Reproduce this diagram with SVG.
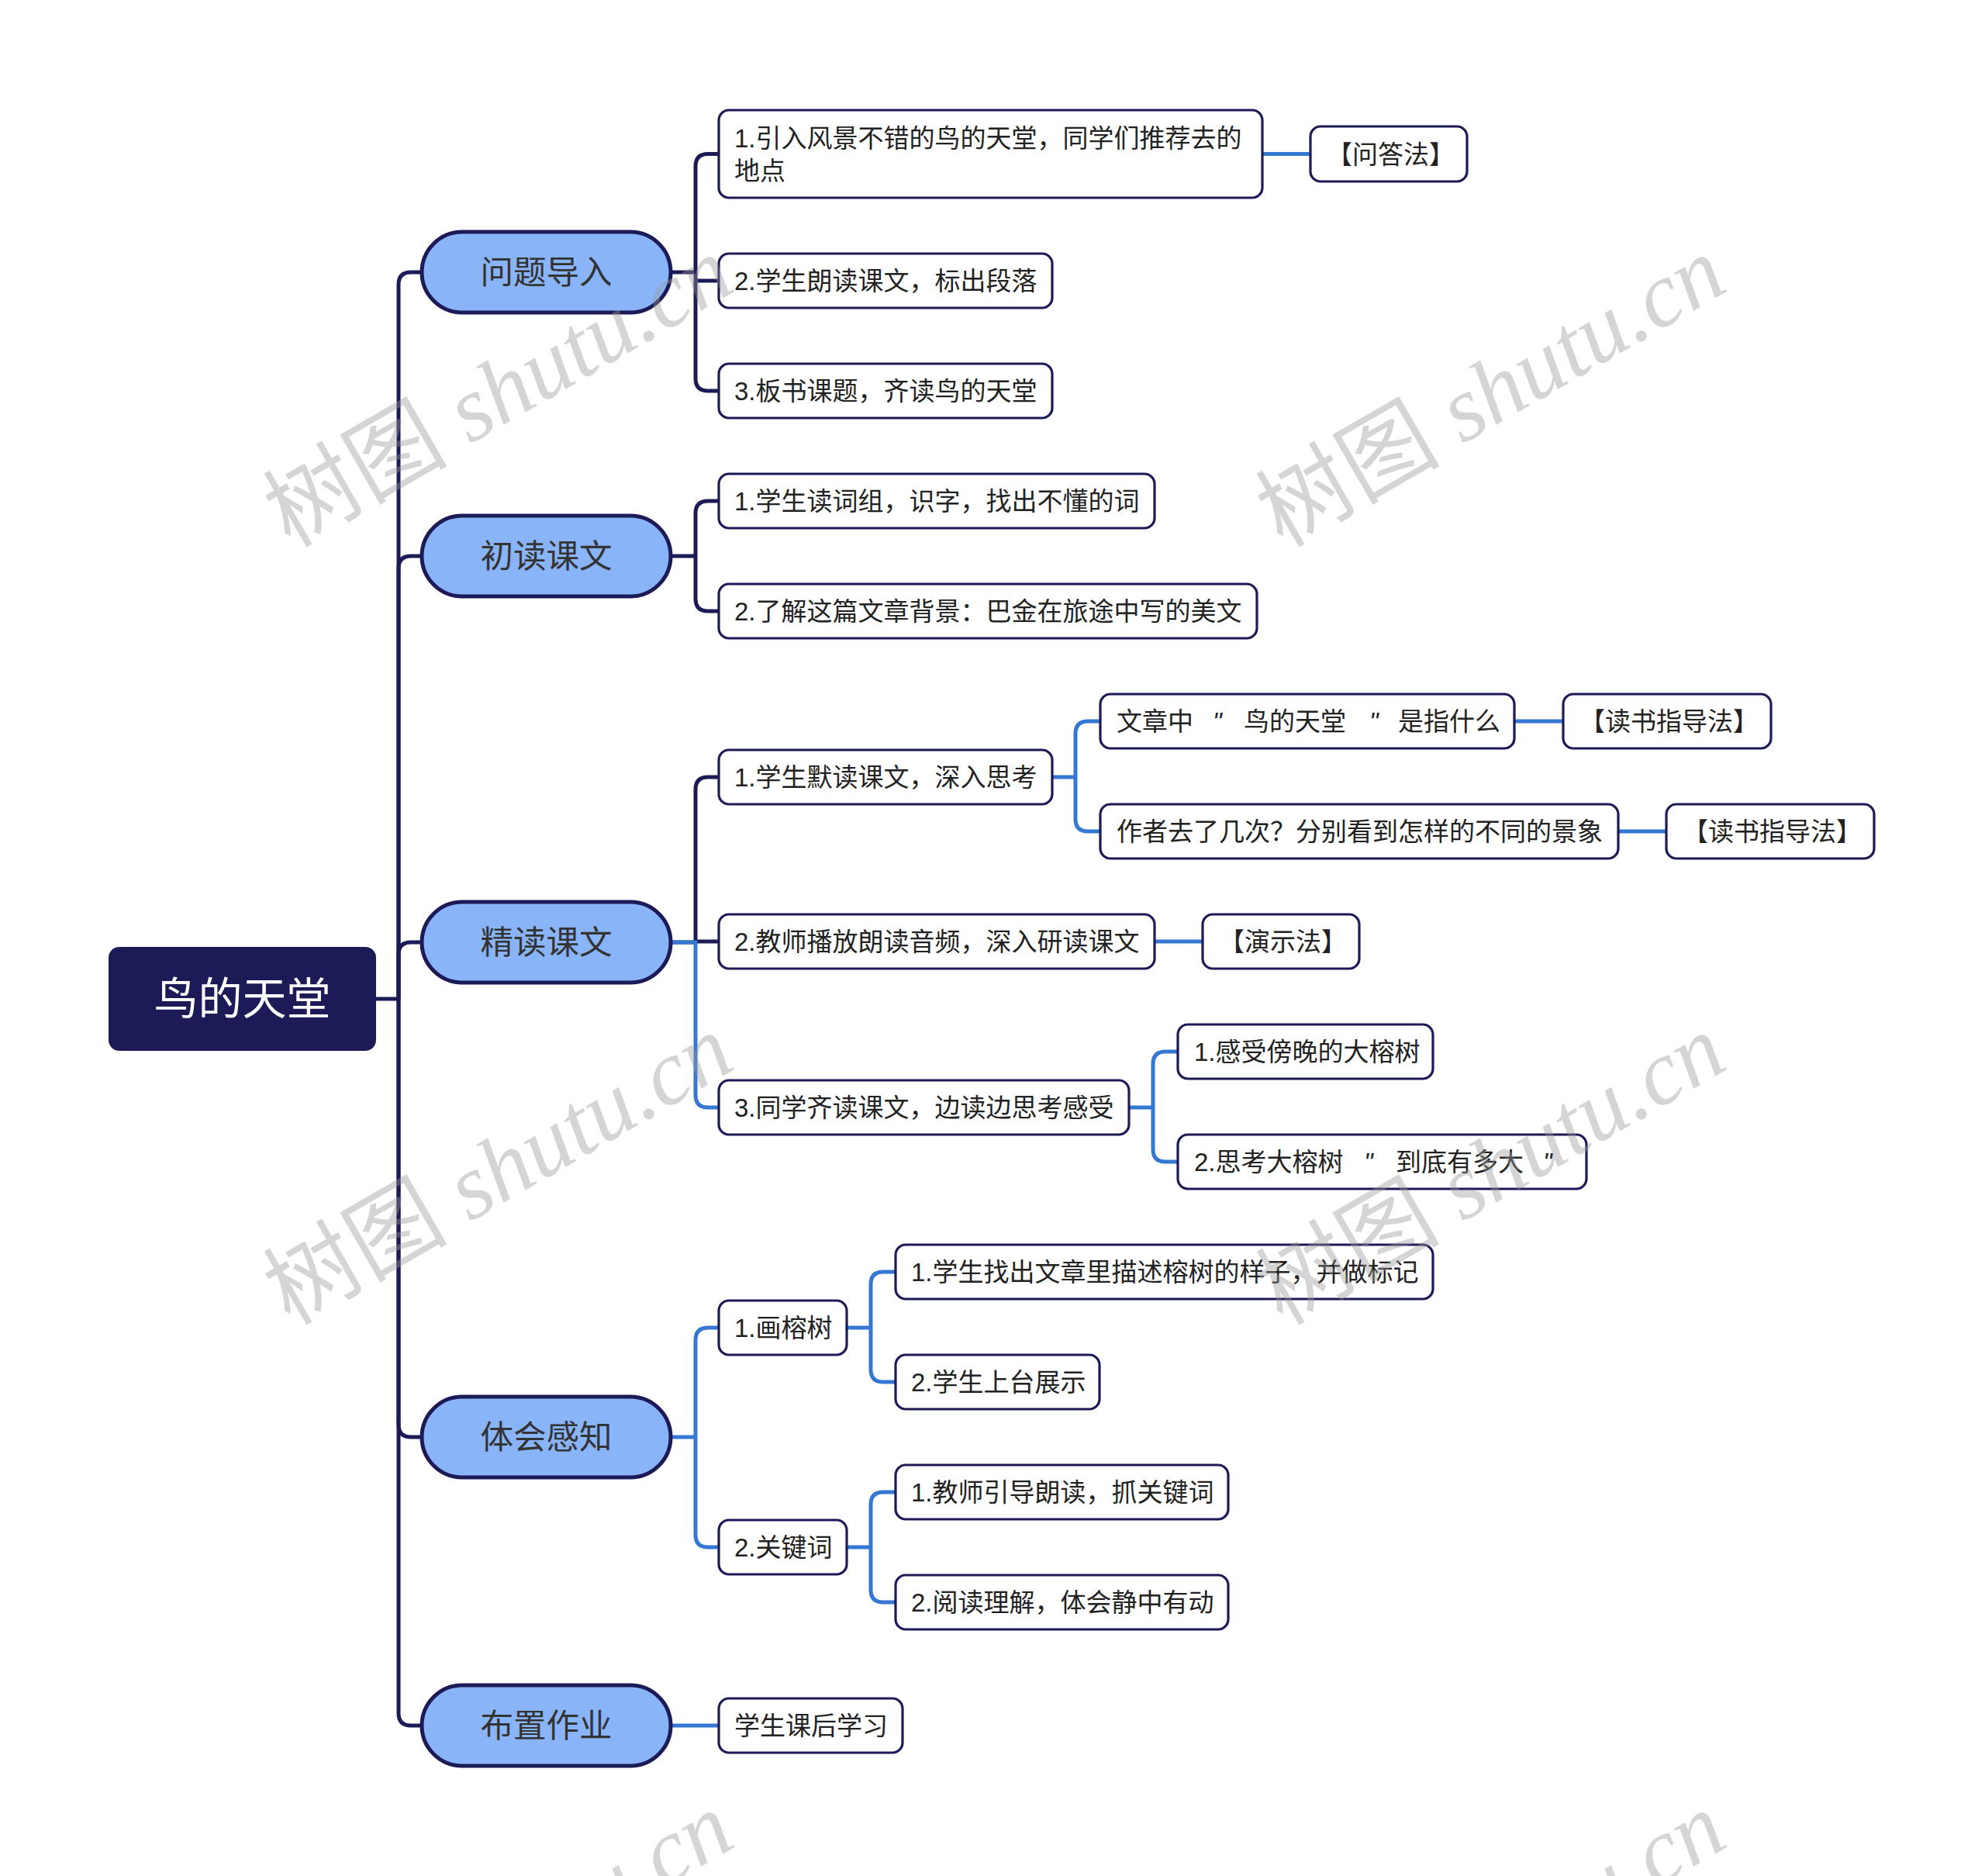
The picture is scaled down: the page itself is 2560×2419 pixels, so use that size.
<svg xmlns="http://www.w3.org/2000/svg" width="2560" height="2419" viewBox="0 0 2560 2419">
<style>
.bg{fill:#ffffff}
.root{fill:#1c1a57}
.roott{fill:#ffffff;font-family:'Liberation Sans','Noto Sans CJK SC',sans-serif;font-size:57px;text-anchor:middle}
.l1{fill:#8ab4f8;stroke:#1c1a57;stroke-width:5}
.l1t{fill:#333333;font-family:'Liberation Sans','Noto Sans CJK SC',sans-serif;font-size:42.5px;text-anchor:middle}
.box{fill:#ffffff;stroke:#1c1a57;stroke-width:3.2}
.t{fill:#222222;font-family:'Liberation Sans','Noto Sans CJK SC',sans-serif;font-size:33px}
.q{font-style:italic}
.dk{fill:none;stroke:#1c1a57;stroke-width:5}
.bl{fill:none;stroke:#3478d4;stroke-width:5}
.wm{fill:#999999;opacity:0.4;font-family:'Liberation Serif','Noto Sans CJK SC',serif;font-size:119px;font-style:italic;text-anchor:middle}
</style>
<rect class="bg" x="0" y="0" width="2560" height="2419"/>
<g id="connectors">
<path class="dk" d="M485,1288 H514"/>
<path class="dk" d="M514,1288 V367 Q514,351 530,351 H544"/>
<path class="dk" d="M514,1288 V733 Q514,717 530,717 H544"/>
<path class="dk" d="M514,1288 V1231 Q514,1215 530,1215 H544"/>
<path class="dk" d="M514,1288 V1837 Q514,1853 530,1853 H544"/>
<path class="dk" d="M514,1288 V2209 Q514,2225 530,2225 H544"/>
<path class="dk" d="M865,351 H897"/>
<path class="dk" d="M897,351 V214.5 Q897,198.5 913,198.5 H927"/>
<path class="dk" d="M897,351 V488 Q897,504 913,504 H927"/>
<path class="dk" d="M897,362 H927"/>
<path class="dk" d="M865,717 H897"/>
<path class="dk" d="M897,717 V662 Q897,646 913,646 H927"/>
<path class="dk" d="M897,717 V772 Q897,788 913,788 H927"/>
<path class="dk" d="M865,1215 H897"/>
<path class="dk" d="M897,1215 V1018 Q897,1002 913,1002 H927"/>
<path class="dk" d="M897,1214 H927"/>
<path class="bl" d="M1628,198.5 H1690"/>
<path class="bl" d="M865,1215 H897 V1412 Q897,1428 913,1428 H927"/>
<path class="bl" d="M1357,1002 H1387"/>
<path class="bl" d="M1387,1002 V946 Q1387,930 1403,930 H1419"/>
<path class="bl" d="M1387,1002 V1056 Q1387,1072 1403,1072 H1419"/>
<path class="bl" d="M1953,930 H2016"/>
<path class="bl" d="M2087,1072 H2149"/>
<path class="bl" d="M1489,1214 H1551"/>
<path class="bl" d="M1456,1428 H1487"/>
<path class="bl" d="M1487,1428 V1372 Q1487,1356 1503,1356 H1519"/>
<path class="bl" d="M1487,1428 V1482 Q1487,1498 1503,1498 H1519"/>
<path class="bl" d="M865,1853 H897"/>
<path class="bl" d="M897,1853 V1728 Q897,1712 913,1712 H927"/>
<path class="bl" d="M897,1853 V1979 Q897,1995 913,1995 H927"/>
<path class="bl" d="M1092,1712 H1123"/>
<path class="bl" d="M1123,1712 V1656 Q1123,1640 1139,1640 H1155"/>
<path class="bl" d="M1123,1712 V1766 Q1123,1782 1139,1782 H1155"/>
<path class="bl" d="M1092,1995 H1123"/>
<path class="bl" d="M1123,1995 V1940 Q1123,1924 1139,1924 H1155"/>
<path class="bl" d="M1123,1995 V2050 Q1123,2066 1139,2066 H1155"/>
<path class="bl" d="M865,2225 H927"/>
</g>
<g id="root">
<rect class="root" x="140" y="1221" width="345" height="134" rx="14"/>
<text class="roott" x="312.5" y="1308">鸟的天堂</text>
</g>
<g id="n-wenti">
<rect class="l1" x="544" y="299" width="321" height="104" rx="52"/>
<text class="l1t" x="704.5" y="366">问题导入</text>
</g>
<g id="n-chudu">
<rect class="l1" x="544" y="665" width="321" height="104" rx="52"/>
<text class="l1t" x="704.5" y="732">初读课文</text>
</g>
<g id="n-jingdu">
<rect class="l1" x="544" y="1163" width="321" height="104" rx="52"/>
<text class="l1t" x="704.5" y="1230">精读课文</text>
</g>
<g id="n-tihui">
<rect class="l1" x="544" y="1801" width="321" height="104" rx="52"/>
<text class="l1t" x="704.5" y="1868">体会感知</text>
</g>
<g id="n-buzhi">
<rect class="l1" x="544" y="2173" width="321" height="104" rx="52"/>
<text class="l1t" x="704.5" y="2240">布置作业</text>
</g>
<g id="a1">
<rect class="box" x="927" y="142" width="701" height="113" rx="13"/>
<text class="t" x="947" y="190">1.引入风景不错的鸟的天堂，同学们推荐去的</text>
<text class="t" x="947" y="232">地点</text>
</g>
<g id="a1m">
<rect class="box" x="1690" y="163" width="202" height="71" rx="13"/>
<text class="t" x="1711" y="210.5">【问答法】</text>
</g>
<g id="a2">
<rect class="box" x="927" y="327" width="430" height="70" rx="13"/>
<text class="t" x="947" y="374">2.学生朗读课文，标出段落</text>
</g>
<g id="a3">
<rect class="box" x="927" y="469" width="430" height="70" rx="13"/>
<text class="t" x="947" y="516">3.板书课题，齐读鸟的天堂</text>
</g>
<g id="b1">
<rect class="box" x="927" y="611" width="562" height="70" rx="13"/>
<text class="t" x="947" y="658">1.学生读词组，识字，找出不懂的词</text>
</g>
<g id="b2">
<rect class="box" x="927" y="753" width="694" height="70" rx="13"/>
<text class="t" x="947" y="800">2.了解这篇文章背景：巴金在旅途中写的美文</text>
</g>
<g id="c1">
<rect class="box" x="927" y="967" width="430" height="70" rx="13"/>
<text class="t" x="947" y="1014">1.学生默读课文，深入思考</text>
</g>
<g id="c2">
<rect class="box" x="927" y="1179" width="562" height="70" rx="13"/>
<text class="t" x="947" y="1226">2.教师播放朗读音频，深入研读课文</text>
</g>
<g id="c3">
<rect class="box" x="927" y="1393" width="529" height="70" rx="13"/>
<text class="t" x="947" y="1440">3.同学齐读课文，边读边思考感受</text>
</g>
<g id="d1">
<rect class="box" x="1419" y="895" width="534" height="70" rx="13"/>
<text class="t" x="1440" y="942">文章中 <tspan class="q" x="1564">"</tspan> <tspan x="1604">鸟的天堂</tspan> <tspan class="q" x="1766">"</tspan> <tspan x="1803">是指什么</tspan></text>
</g>
<g id="d1m">
<rect class="box" x="2016" y="895" width="268" height="70" rx="13"/>
<text class="t" x="2037" y="942">【读书指导法】</text>
</g>
<g id="d2">
<rect class="box" x="1419" y="1037" width="668" height="70" rx="13"/>
<text class="t" x="1440" y="1084">作者去了几次？分别看到怎样的不同的景象</text>
</g>
<g id="d2m">
<rect class="box" x="2149" y="1037" width="268" height="70" rx="13"/>
<text class="t" x="2170" y="1084">【读书指导法】</text>
</g>
<g id="c2m">
<rect class="box" x="1551" y="1179" width="202" height="70" rx="13"/>
<text class="t" x="1572" y="1226">【演示法】</text>
</g>
<g id="e1">
<rect class="box" x="1519" y="1321" width="329" height="70" rx="13"/>
<text class="t" x="1540" y="1368">1.感受傍晚的大榕树</text>
</g>
<g id="e2">
<rect class="box" x="1519" y="1463" width="527" height="70" rx="13"/>
<text class="t" x="1540" y="1510">2.思考大榕树 <tspan class="q" x="1759">"</tspan> <tspan x="1800">到底有多大</tspan> <tspan class="q" x="1990">"</tspan></text>
</g>
<g id="f1">
<rect class="box" x="927" y="1677" width="165" height="70" rx="13"/>
<text class="t" x="947" y="1724">1.画榕树</text>
</g>
<g id="f2">
<rect class="box" x="927" y="1960" width="165" height="70" rx="13"/>
<text class="t" x="947" y="2007">2.关键词</text>
</g>
<g id="g1">
<rect class="box" x="1155" y="1605" width="693" height="70" rx="13"/>
<text class="t" x="1175" y="1652">1.学生找出文章里描述榕树的样子，并做标记</text>
</g>
<g id="g2">
<rect class="box" x="1155" y="1747" width="263" height="70" rx="13"/>
<text class="t" x="1175" y="1794">2.学生上台展示</text>
</g>
<g id="h1">
<rect class="box" x="1155" y="1889" width="429" height="70" rx="13"/>
<text class="t" x="1175" y="1936">1.教师引导朗读，抓关键词</text>
</g>
<g id="h2">
<rect class="box" x="1155" y="2031" width="429" height="70" rx="13"/>
<text class="t" x="1175" y="2078">2.阅读理解，体会静中有动</text>
</g>
<g id="i1">
<rect class="box" x="927" y="2190" width="237" height="70" rx="13"/>
<text class="t" x="947" y="2237">学生课后学习</text>
</g>
<g id="watermarks">
<text class="wm" transform="translate(663,540) rotate(-30)"><tspan font-style="normal">树图</tspan> shutu.cn</text>
<text class="wm" transform="translate(1943,540) rotate(-30)"><tspan font-style="normal">树图</tspan> shutu.cn</text>
<text class="wm" transform="translate(663,1543) rotate(-30)"><tspan font-style="normal">树图</tspan> shutu.cn</text>
<text class="wm" transform="translate(1943,1543) rotate(-30)"><tspan font-style="normal">树图</tspan> shutu.cn</text>
<text class="wm" transform="translate(663,2546) rotate(-30)"><tspan font-style="normal">树图</tspan> shutu.cn</text>
<text class="wm" transform="translate(1943,2546) rotate(-30)"><tspan font-style="normal">树图</tspan> shutu.cn</text>
</g>
</svg>
